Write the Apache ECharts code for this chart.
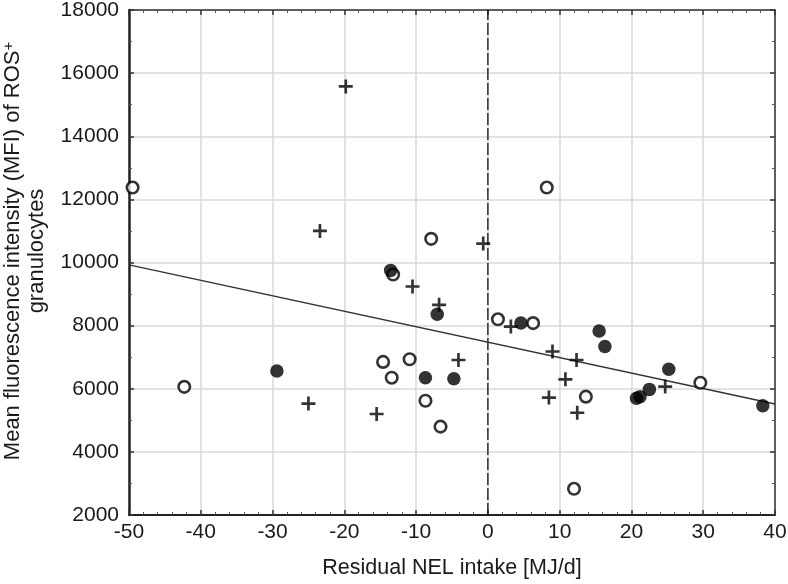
<!DOCTYPE html>
<html><head><meta charset="utf-8">
<script src="https://cdn.jsdelivr.net/npm/echarts@6/dist/echarts.min.js"></script>
<style>html,body{margin:0;padding:0;background:#fff}#c{width:788px;height:584px}</style>
</head><body><div id="c"></div>
<script>
// Open circles
var openX = [-49.5, -42.3, -14.6, -13.2, -13.4, -10.9, -8.7, -7.9, -6.6, 1.4, 6.3, 8.2, 12.0, 13.65, 29.6];
var openY = [12375, 6060, 6850, 9620, 6350, 6935, 5620, 10750, 4800, 8200, 8080, 12375, 2830, 5750, 6190];
// Filled circles
var fillX = [-29.4, -13.55, -8.7, -7.06, -4.74, 4.6, 15.5, 16.3, 20.7, 21.2, 22.5, 25.2, 38.3];
var fillY = [6560, 9750, 6350, 8360, 6320, 8080, 7830, 7340, 5700, 5750, 5980, 6620, 5460];
// Plus markers
var plusX = [-25.0, -23.4, -19.8, -15.5, -10.5, -6.8, -4.1, -0.65, 3.2, 8.5, 9.0, 10.8, 12.35, 12.45, 24.7];
var plusY = [5530, 11000, 15580, 5200, 9240, 8660, 6910, 10600, 7970, 5720, 7180, 6300, 6910, 5240, 6070];
// Regression line endpoints
var fitX = [-50, 40];
var fitY = [9925, 5520];
// Axis ticks
var xTicks = [-50, -40, -30, -20, -10, 0, 10, 20, 30, 40];
var yTicks = [2000, 4000, 6000, 8000, 10000, 12000, 14000, 16000, 18000];
// Axis titles
var xTitle = 'Residual NEL intake [MJ/d]';
var yTitleLine1 = 'Mean fluorescence intensity (MFI) of ROS';
var yTitleSup = '+';
var yTitleLine2 = 'granulocytes';

function pairs(xs, ys) { return xs.map(function (x, i) { return [x, ys[i]]; }); }

var FONT = 'Liberation Sans, Arial, sans-serif';
var chart = echarts.init(document.getElementById('c'), null, { renderer: 'canvas' });
var plusPath = 'path://M-1.25,-6.5 L1.25,-6.5 L1.25,-1.25 L6.5,-1.25 L6.5,1.25 L1.25,1.25 L1.25,6.5 L-1.25,6.5 L-1.25,1.25 L-6.5,1.25 L-6.5,-1.25 L-1.25,-1.25 Z';

var xMin = xTicks[0], xMax = xTicks[xTicks.length - 1];
var yMin = yTicks[0], yMax = yTicks[yTicks.length - 1];
var plain = function (v) { return String(v); };

chart.setOption({
  animation: false,
  backgroundColor: '#fff',
  grid: { left: 129, right: 13, top: 10, bottom: 69, containLabel: false, outerBoundsMode: 'none' },
  graphic: [{
    type: 'text', x: 25, y: 251, rotation: Math.PI / 2, silent: true,
    style: {
      text: '{a|' + yTitleLine1 + '}{s|' + yTitleSup + '}\n{a|' + yTitleLine2 + '}',
      align: 'center', verticalAlign: 'middle',
      rich: {
        a: { fontFamily: FONT, fontSize: 22, fill: '#1a1a1a', lineHeight: 24, align: 'center' },
        s: { fontFamily: FONT, fontSize: 15, fill: '#1a1a1a', lineHeight: 24, verticalAlign: 'top', padding: [0, 0, 9, 0] }
      }
    }
  }],
  xAxis: [{
    type: 'value', min: xMin, max: xMax, interval: 10,
    name: xTitle, nameLocation: 'middle', nameGap: 42,
    nameTextStyle: { fontFamily: FONT, fontSize: 21.5, color: '#1a1a1a' },
    axisLine: { onZero: false, lineStyle: { color: '#222', width: 2 } },
    axisTick: { inside: true, length: 5, lineStyle: { color: '#333', width: 1.5 } },
    minorTick: { show: true, splitNumber: 5, length: 3, lineStyle: { color: '#555', width: 1 } },
    axisLabel: { fontFamily: FONT, fontSize: 21, color: '#1a1a1a', margin: 7, formatter: plain },
    splitLine: { show: true, lineStyle: { color: '#d9d9d9', width: 1.5 } }
  }, {
    type: 'value', min: xMin, max: xMax, interval: 10, position: 'top',
    axisLine: { onZero: false, lineStyle: { color: '#333', width: 1.5 } },
    axisTick: { inside: true, length: 5, lineStyle: { color: '#333', width: 1.5 } },
    minorTick: { show: true, splitNumber: 5, length: 3, lineStyle: { color: '#555', width: 1 } },
    axisLabel: { show: false }, splitLine: { show: false }
  }],
  yAxis: [{
    type: 'value', min: yMin, max: yMax, interval: 2000,
    axisLine: { onZero: false, lineStyle: { color: '#222', width: 2.5 } },
    axisTick: { inside: true, length: 5, lineStyle: { color: '#333', width: 1.5 } },
    minorTick: { show: true, splitNumber: 2, length: 3, lineStyle: { color: '#555', width: 1 } },
    axisLabel: { fontFamily: FONT, fontSize: 21, color: '#1a1a1a', margin: 10, formatter: plain },
    splitLine: { show: true, lineStyle: { color: '#d9d9d9', width: 1.5 } }
  }, {
    type: 'value', min: yMin, max: yMax, interval: 2000, position: 'right',
    axisLine: { onZero: false, lineStyle: { color: '#333', width: 1.5 } },
    axisTick: { inside: true, length: 5, lineStyle: { color: '#333', width: 1.5 } },
    minorTick: { show: true, splitNumber: 2, length: 3, lineStyle: { color: '#555', width: 1 } },
    axisLabel: { show: false }, splitLine: { show: false }
  }],
  series: [
    {
      type: 'line', data: [[0, yMin], [0, yMax]], symbol: 'none', silent: true, z: 1,
      lineStyle: { color: '#111', width: 1.3, type: [12, 3] }
    },
    {
      type: 'line', data: pairs(fitX, fitY), symbol: 'none', silent: true, z: 2,
      lineStyle: { color: '#333', width: 1.5 }
    },
    {
      type: 'scatter', data: pairs(openX, openY), symbol: 'circle', symbolSize: 11.5, z: 3,
      itemStyle: { color: '#fff', borderColor: '#000', borderWidth: 2.6 }
    },
    {
      type: 'scatter', data: pairs(fillX, fillY), symbol: 'circle', symbolSize: 13.5, z: 4,
      itemStyle: { color: '#000' }
    },
    {
      type: 'scatter', data: pairs(plusX, plusY), symbol: plusPath, symbolSize: 14, z: 5,
      itemStyle: { color: '#000' }
    }
  ]
});
</script></body></html>
